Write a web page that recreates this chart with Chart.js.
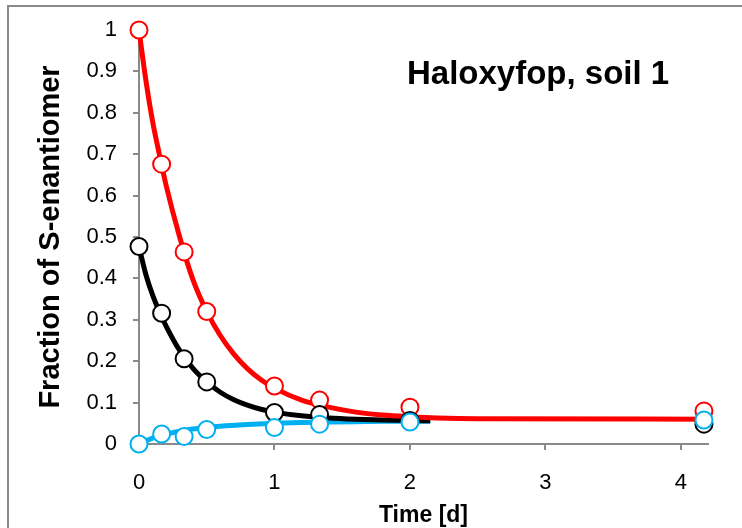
<!DOCTYPE html>
<html lang="en">
<head>
    <meta charset="UTF-8">
    <title>Haloxyfop, soil 1</title>
    <script src="https://cdn.jsdelivr.net/npm/chart.js"></script>
    <style>
        html, body { margin: 0; padding: 0; background: #fff; }
        #wrap { width: 742px; height: 528px; position: relative; }
    </style>
</head>
<body>
    <div id="wrap"><canvas id="fractionChart" width="742" height="528"></canvas></div>

    <script>
        // Sampling times [d] and measured fractions
        const times = [0, 0.167, 0.333, 0.5, 1, 1.333, 2, 4.17];
        const redObs = [1.0, 0.676, 0.464, 0.32, 0.14, 0.106, 0.089, 0.08];
        const blackObs = [0.477, 0.316, 0.206, 0.15, 0.076, 0.071, 0.057, 0.048];
        const cyanObs = [0.0, 0.024, 0.018, 0.035, 0.04, 0.048, 0.053, 0.058];

        // Fitted curves
        const redFitX = [0, 0.05, 0.1, 0.15, 0.2, 0.3, 0.4, 0.5, 0.6, 0.7, 0.8, 0.9, 1.0, 1.2, 1.4, 1.6, 1.8, 2.0, 2.2, 2.5, 4.17];
        const redFitY = [1.0, 0.88, 0.78, 0.70, 0.625, 0.50, 0.395, 0.32, 0.262, 0.217, 0.182, 0.155, 0.135, 0.106, 0.089, 0.077, 0.070, 0.066, 0.063, 0.061, 0.06];
        const blackFitX = [0, 0.05, 0.1, 0.15, 0.2, 0.3, 0.4, 0.5, 0.6, 0.7, 0.8, 0.9, 1.0, 1.2, 1.4, 1.6, 1.8, 2.0, 2.15];
        const blackFitY = [0.477, 0.41, 0.36, 0.32, 0.285, 0.226, 0.182, 0.15, 0.125, 0.107, 0.094, 0.084, 0.077, 0.068, 0.063, 0.06, 0.058, 0.057, 0.056];
        const cyanFitX = [0, 0.1, 0.2, 0.3, 0.4, 0.5, 0.6, 0.8, 1.0, 1.2, 1.4, 1.6, 1.8, 2.15];
        const cyanFitY = [0.0, 0.014, 0.024, 0.031, 0.036, 0.04, 0.043, 0.047, 0.05, 0.052, 0.053, 0.054, 0.055, 0.055];

        const xTicks = [0, 1, 2, 3, 4];
        const yTicks = [0, 0.1, 0.2, 0.3, 0.4, 0.5, 0.6, 0.7, 0.8, 0.9, 1];

        const axisGrey = '#8a8a8a';
        const font = 'Liberation Sans, Arial, sans-serif';

        const pairs = (xs, ys) => xs.map((x, i) => ({ x: x, y: ys[i] }));

        function curve(xs, ys, color, order) {
            return {
                data: pairs(xs, ys),
                showLine: true,
                borderColor: color,
                borderWidth: 5,
                pointRadius: 0,
                cubicInterpolationMode: 'monotone',
                clip: false,
                order: order
            };
        }

        function markers(ys, color, order) {
            return {
                data: pairs(times, ys),
                showLine: false,
                borderColor: color,
                backgroundColor: '#fff',
                borderWidth: 2,
                pointRadius: 8.5,
                clip: false,
                order: order
            };
        }

        // Outer frame and the chart caption
        const decor = {
            id: 'decor',
            beforeDraw(chart) {
                const ctx = chart.ctx;
                ctx.save();
                ctx.strokeStyle = axisGrey;
                ctx.lineWidth = 2;
                ctx.beginPath();
                ctx.moveTo(8, 528);
                ctx.lineTo(8, 6);
                ctx.lineTo(742, 6);
                ctx.stroke();
                ctx.restore();
            },
            afterDraw(chart) {
                const ctx = chart.ctx;
                ctx.save();
                ctx.fillStyle = '#000';
                ctx.font = 'bold 33px ' + font;
                ctx.textBaseline = 'middle';
                ctx.textAlign = 'left';
                ctx.fillText('Haloxyfop, soil 1', 407, 75);
                ctx.restore();
            }
        };

        new Chart(document.getElementById('fractionChart'), {
            type: 'scatter',
            data: {
                datasets: [
                    markers(cyanObs, '#00b0f0', 1),
                    markers(blackObs, '#000000', 2),
                    markers(redObs, '#ff0000', 3),
                    curve(redFitX, redFitY, '#ff0000', 4),
                    curve(blackFitX, blackFitY, '#000000', 5),
                    curve(cyanFitX, cyanFitY, '#00b0f0', 6)
                ]
            },
            options: {
                responsive: false,
                animation: false,
                layout: { padding: { left: 8, top: 30, right: 34, bottom: 0 } },
                plugins: {
                    legend: { display: false },
                    tooltip: { enabled: false }
                },
                scales: {
                    x: {
                        type: 'linear',
                        min: 0,
                        max: 4.2,
                        afterBuildTicks: s => { s.ticks = xTicks.map(v => ({ value: v })); },
                        afterFit: s => { s.height = 84; },
                        grid: { drawOnChartArea: false, drawTicks: true, tickLength: 6, color: axisGrey, lineWidth: 2 },
                        border: { color: axisGrey, width: 2 },
                        ticks: { color: '#000', padding: 20, font: { family: font, size: 22 } },
                        title: {
                            display: true,
                            text: 'Time [d]',
                            color: '#000',
                            font: { family: font, size: 23, weight: 'bold', lineHeight: 1 },
                            padding: { top: 0, bottom: 1 }
                        }
                    },
                    y: {
                        min: 0,
                        max: 1,
                        afterBuildTicks: s => { s.ticks = yTicks.map(v => ({ value: v })); },
                        afterFit: s => { s.width = 131; },
                        grid: { drawOnChartArea: false, drawTicks: true, tickLength: 6, color: axisGrey, lineWidth: 2 },
                        border: { color: axisGrey, width: 2 },
                        ticks: {
                            color: '#000',
                            padding: 16,
                            font: { family: font, size: 22 },
                            callback: v => String(Math.round(v * 10) / 10)
                        },
                        title: {
                            display: true,
                            text: 'Fraction of S-enantiomer',
                            color: '#000',
                            font: { family: font, size: 29, weight: 'bold', lineHeight: 1.2 },
                            padding: { top: 26, bottom: 0 }
                        }
                    }
                }
            },
            plugins: [decor]
        });
    </script>
</body>
</html>
